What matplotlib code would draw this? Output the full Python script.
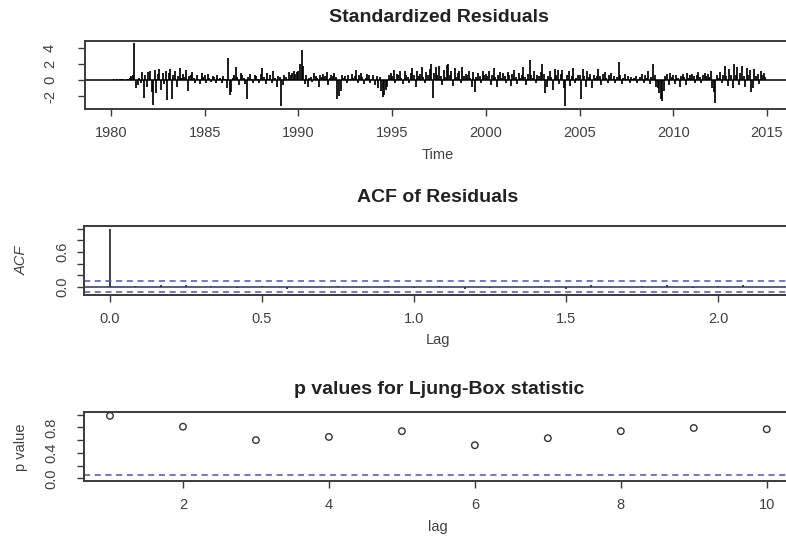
import matplotlib
matplotlib.use("Agg")
import matplotlib.pyplot as plt
import numpy as np

plt.rcParams["font.family"] = ["Liberation Sans", "DejaVu Sans"]
plt.rcParams["axes.unicode_minus"] = False

# standardized residuals, monthly from Jan 1980 (one row per year)
resid_rows = [
    [0.05, 0.08, 0.1, 0.06, 0.1, 0.08, 0.1, 0.12, 0.1, 0.08, 0.1, 0.15],
    [0.3, 0.5, 0.7, 4.6, -1.0, -0.6, 0.3, -0.4, 1.0, -2.2, 0.6, -0.8],
    [1.0, 1.2, -1.5, -3.1, 1.3, -1.6, 0.8, 1.4, -1.2, 0.9, -0.5, 1.1],
    [-2.5, 0.9, 1.4, -2.3, 0.6, 1.2, -0.8, 0.5, 1.5, 0.3, 0.8, 0.4],
    [1.3, -1.3, 0.5, 0.7, 1.0, 0.3, -0.4, 0.6, 0.2, -0.5, 0.9, 0.4],
    [0.6, -0.3, 0.8, 0.3, -0.2, 0.5, 0.4, -0.3, 0.7, 0.2, 0.3, -0.4],
    [0.5, 0.2, -1.0, 2.8, -1.8, -1.5, 0.3, 0.6, 1.7, 0.4, -0.6, 0.9],
    [0.7, 0.3, -0.5, -2.4, 0.4, 0.8, 0.2, -0.3, 0.6, 0.5, 0.2, -0.4],
    [0.8, 1.5, 0.4, -0.5, 0.9, 0.2, 0.6, -0.3, 1.2, 0.3, -0.8, 0.5],
    [0.4, -3.2, -0.6, 0.7, 0.4, 0.2, 1.0, 0.6, 0.9, 1.1, 0.8, 1.0],
    [1.2, 2.0, 3.8, 1.8, -0.5, 0.6, -0.8, 0.3, 0.4, -0.2, 0.9, 0.5],
    [0.3, -0.9, 0.7, 0.4, 0.8, 0.5, 1.0, -0.6, 0.3, 0.7, 0.5, 0.9],
    [0.4, -2.3, -2.0, -1.4, 0.6, 0.3, 0.5, -0.4, 0.7, 0.2, 0.8, 0.3],
    [0.5, 1.3, -0.3, 0.6, 0.9, 0.4, -0.5, 0.3, 0.8, 0.6, -0.4, 0.2],
    [0.7, -0.6, 0.5, -1.0, 0.4, -1.3, -2.1, -1.8, -1.2, -0.8, 0.6, 0.9],
    [0.5, 1.3, -0.4, 0.8, 0.6, 1.1, 0.3, -0.5, 1.2, 0.7, 0.4, -0.3],
    [0.9, 1.5, 0.6, -0.8, 1.2, 0.5, 0.8, 1.6, 0.4, -0.3, 1.0, 0.7],
    [1.4, 2.0, -2.2, 0.9, 1.6, 0.7, 1.8, 0.5, -0.6, 1.3, 0.4, 1.9],
    [2.0, 0.6, 1.1, -0.7, 1.5, 0.4, 0.9, 1.2, -0.4, 1.7, 0.5, 0.8],
    [0.6, 1.2, 0.3, -0.8, 1.0, -1.5, 0.4, 0.9, 0.5, -0.3, 1.1, 0.6],
    [0.8, 0.5, 1.2, -0.6, 0.7, 1.5, 0.4, -0.8, 0.6, 1.0, 0.3, 0.9],
    [0.5, -0.4, 1.0, 0.6, -0.7, 0.8, 1.3, 0.4, -0.5, 0.9, 0.3, 0.6],
    [1.6, 0.4, -0.6, 0.8, 2.5, 0.6, 0.3, 1.2, -0.4, 0.7, 0.5, 1.0],
    [2.0, 0.8, -1.6, -0.9, 0.5, 1.2, 0.4, -1.2, 1.4, 0.6, 1.3, -0.5],
    [0.8, 1.3, -1.0, -3.2, 0.6, 1.2, -0.7, 0.5, 1.5, -0.4, 0.3, 0.7],
    [0.6, -2.3, 1.4, 0.5, -0.8, 1.2, 0.4, 0.8, -1.0, 0.6, 0.3, 0.5],
    [1.4, 0.5, -0.6, 0.8, 1.0, 0.3, -0.4, 0.6, 0.9, 0.2, 0.5, -0.3],
    [0.4, 2.3, 0.6, -0.5, 0.3, 0.8, 0.2, 0.5, -0.3, 0.4, 0.2, 0.3],
    [0.5, -0.3, 0.2, 0.4, 0.8, -0.4, 0.6, 0.3, 1.2, -0.5, 0.4, 2.0],
    [0.6, -0.8, -1.0, -1.6, -2.3, -2.6, -1.4, 0.5, 0.8, -0.6, 0.9, 0.4],
    [0.6, -0.5, 0.7, 0.3, -0.8, 0.5, 0.8, 0.4, -0.6, 0.9, 0.3, 0.6],
    [0.8, 0.5, -0.4, 0.7, 1.0, 0.4, -0.3, 0.6, 0.9, 0.5, 0.8, 0.4],
    [1.2, -1.0, -1.5, -2.8, 0.6, 0.3, 1.0, -0.4, 0.7, 1.8, 0.5, -0.7],
    [1.4, 0.6, -1.0, 2.0, 0.7, 1.6, -0.6, 0.9, 1.8, 0.5, -0.8, 1.5],
    [0.7, 1.3, -1.5, -1.0, 1.4, 0.5, 0.8, -0.5, 1.2, 0.6, 0.9, 0.4],
]
start_year = 1980
year_ticks = [1980, 1985, 1990, 1995, 2000, 2005, 2010, 2015]

# ACF of residuals, lag 0..26 (months, shown in years)
acf_vals = [1.0, 0.01, 0.03, 0.04, 0.01, -0.02, 0.02, -0.03, 0.0, 0.01,
            -0.01, 0.02, -0.02, 0.01, -0.03, -0.02, 0.0, 0.02, -0.03, 0.03,
            -0.01, 0.02, 0.04, -0.02, 0.01, 0.03, -0.01]
acf_ticks = [0.0, 0.5, 1.0, 1.5, 2.0]

# Ljung-Box p values
lb_lags = [1, 2, 3, 4, 5, 6, 7, 8, 9, 10]
lb_pvals = [0.98, 0.81, 0.60, 0.65, 0.74, 0.52, 0.63, 0.74, 0.79, 0.77]

resid = np.array(resid_rows).ravel()
t = start_year + np.arange(len(resid)) / 12.0
n = len(resid)
ci = 1.96 / np.sqrt(n)

W, H = 786, 539
fig = plt.figure(figsize=(W / 100, H / 100), dpi=100)

def px_axes(x0, x1, y0, y1):
    return fig.add_axes([x0 / W, 1 - y1 / H, (x1 - x0) / W, (y1 - y0) / H])

edge = "#3a3a3a"
txt = "#404040"
blue = "#5050c0"

def style(ax, ypad):
    for s in ax.spines.values():
        s.set_color(edge)
        s.set_linewidth(1.4)
    ax.tick_params(direction="out", length=5, width=1.0, color=edge,
                   labelcolor=txt, labelsize=10.5)
    ax.tick_params(axis="x", pad=7)
    ax.tick_params(axis="y", labelrotation=90, pad=ypad)
    for lab in ax.get_yticklabels():
        lab.set_va("center")

# panel 1
ax1 = px_axes(84.8, 791.6, 41, 109)
ax1.vlines(t, 0, resid, color="black", linewidth=1.25)
ax1.axhline(0, color="black", linewidth=1.1)
ext = (t[-1] - t[0]) * 0.04
ax1.set_xlim(t[0] - ext, t[-1] + ext)
ax1.set_ylim(-3.6, 4.9)
ax1.set_yticks([-2, 0, 2, 4])
ax1.set_xticks(year_ticks)
style(ax1, 15)

# panel 2
lags = np.arange(len(acf_vals)) / 12.0
ax2 = px_axes(83.7, 795, 226, 295)
ax2.vlines(lags, 0, acf_vals, color="#333333", linewidth=1.3)
ax2.axhline(0, color="#2e2e6e", linewidth=1.1)
ax2.axhline(ci, color=blue, linewidth=1.1, linestyle=(0, (4, 3)))
ax2.axhline(-ci, color=blue, linewidth=1.1, linestyle=(0, (4, 3)))
ext = lags[-1] * 0.04
ax2.set_xlim(-ext, lags[-1] + ext)
ax2.set_ylim(-0.14, 1.05)
ax2.set_xticks(acf_ticks)
ax2.set_yticks([0.0, 0.2, 0.4, 0.6, 0.8, 1.0])
ax2.set_yticklabels(["0.0", "", "", "0.6", "", ""])
style(ax2, 5)

# panel 3
ax3 = px_axes(83.7, 793, 412, 481)
ax3.scatter(lb_lags, lb_pvals, s=22, facecolors="none", edgecolors="#333333", linewidths=1.0)
ax3.axhline(0.05, color=blue, linewidth=1.1, linestyle=(0, (4, 3)))
ax3.set_xlim(0.64, 10.36)
ax3.set_ylim(-0.04, 1.04)
ax3.set_xticks([2, 4, 6, 8, 10])
ax3.set_yticks([0.0, 0.2, 0.4, 0.6, 0.8, 1.0])
ax3.set_yticklabels(["0.0", "", "0.4", "", "0.8", ""])
style(ax3, 13)

def ftext(x, y, s, color=txt, **kw):
    fig.text(x / W, 1 - y / H, s, ha="center", va="center", color=color, **kw)

ftext(439, 17, "Standardized Residuals", fontsize=14, fontweight="bold", color="#222222")
ftext(438, 198, "ACF of Residuals", fontsize=14, fontweight="bold", color="#222222")
ftext(439, 390, "p values for Ljung-Box statistic", fontsize=14, fontweight="bold", color="#222222")
ftext(438, 155, "Time", fontsize=10.5)
ftext(438, 340, "Lag", fontsize=10.5)
ftext(438, 527, "lag", fontsize=10.5)
ftext(22, 260, "ACF", fontsize=10.5, rotation=90, style="italic")
ftext(21, 447, "p value", fontsize=10.5, rotation=90)

fig.savefig("out.png", dpi=100)
